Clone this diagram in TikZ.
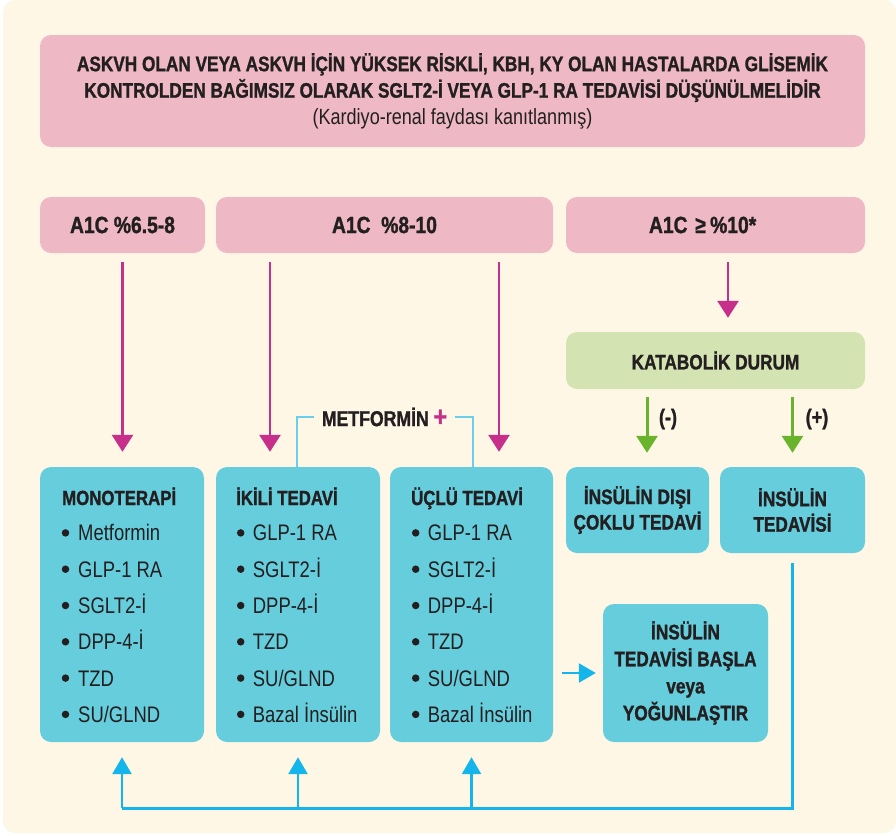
\documentclass[tikz,border=0pt]{standalone}
\usepackage{fontspec}
\setmainfont[FakeStretch=0.82, BoldFeatures={FakeBold=1.2}]{Liberation Sans}
\usetikzlibrary{arrows.meta,calc}
\definecolor{cream}{HTML}{FEF7E6}
\definecolor{pinkbox}{HTML}{EEB9C4}
\definecolor{mag}{HTML}{C7308A}
\definecolor{greenbox}{HTML}{D4E3B2}
\definecolor{greenarr}{HTML}{6AB42D}
\definecolor{cyanbox}{HTML}{66CDDD}
\definecolor{blueline}{HTML}{13B5EA}
\definecolor{bracket}{HTML}{6ACFEA}
\definecolor{txt}{HTML}{231F20}
\begin{document}
\begin{tikzpicture}[x=1pt,y=-1pt,
  box/.style={rounded corners=11pt, inner sep=0pt, text=txt, align=center},
  pbox/.style={box, fill=pinkbox},
  gbox/.style={box, fill=greenbox},
  cbox/.style={box, fill=cyanbox},
  hfont/.style={font=\bfseries\fontsize{21}{25.5}\selectfont},
  afont/.style={font=\bfseries\fontsize{23.5}{26}\selectfont},
  head/.style={text=txt, inner sep=0pt, anchor=base west, font=\bfseries\fontsize{20.5}{24}\selectfont},
  item/.style={text=txt, inner sep=0pt, anchor=base west, font=\fontsize{22.5}{24}\selectfont},
  bul/.style={circle, fill=txt, inner sep=0pt, minimum size=7.5pt},
  marr/.style={draw=mag, line width=2.8pt, -{Triangle[width=21pt,length=17pt]}},
  garr/.style={draw=greenarr, line width=3pt, -{Triangle[width=21pt,length=17pt]}},
  barr/.style={draw=blueline, line width=2.6pt, -{Triangle[width=19pt,length=17pt]}},
  bln/.style={draw=blueline, line width=2.6pt},
  brk/.style={draw=bracket, line width=2.6pt}
]
\useasboundingbox (0,0) rectangle (896,835);
\fill[white] (0,0) rectangle (896,835);
\fill[cream, rounded corners=12pt] (3,0) rectangle (896,833);

% top box
\node[pbox, minimum width=825pt, minimum height=112pt, font=\bfseries\fontsize{21}{26.5}\selectfont] (top) at (452.5,91)
 {ASKVH OLAN VEYA ASKVH İÇİN YÜKSEK RİSKLİ, KBH, KY OLAN HASTALARDA GLİSEMİK\\
  KONTROLDEN BAĞIMSIZ OLARAK SGLT2-İ VEYA GLP-1 RA TEDAVİSİ DÜŞÜNÜLMELİDİR\\
  \mdseries\fontsize{22}{26.5}\selectfont (Kardiyo-renal faydası kanıtlanmış)};

% A1C boxes
\node[pbox, afont, minimum width=165pt, minimum height=56pt] (a1) at (122.5,225) {A1C \%6.5-8};
\node[pbox, afont, minimum width=337pt, minimum height=56pt] (a2) at (384.5,225) {A1C \ \%8-10};
\node[pbox, afont, minimum width=299pt, minimum height=56pt, text width=299pt, align=left] (a3) at (715.5,225) {\hspace*{83pt}A1C ≥\hspace{0.18em}\%10*};

% katabolik
\node[gbox, hfont, minimum width=299pt, minimum height=57pt] (kat) at (715.5,360.5) {KATABOLİK DURUM};

% therapy boxes
\node[cbox, minimum width=164pt, minimum height=275pt] (mono) at (122,604.5) {};
\node[cbox, minimum width=164pt, minimum height=275pt] (ikili) at (298,604.5) {};
\node[cbox, minimum width=163pt, minimum height=275pt] (uclu) at (471.5,604.5) {};
\node[cbox, hfont, minimum width=143pt, minimum height=86pt] (idisi) at (637.5,510) {İNSÜLİN DIŞI\\ÇOKLU TEDAVİ};
\node[cbox, hfont, minimum width=145pt, minimum height=86pt] (itedavi) at (792.5,510) {İNSÜLİN\\TEDAVİSİ};
\node[cbox, font=\bfseries\fontsize{21}{27}\selectfont, minimum width=165pt, minimum height=138pt] (basla) at (685.5,673)
 {İNSÜLİN\\TEDAVİSİ BAŞLA\\veya\\YOĞUNLAŞTIR};

% list contents
\node[head] (mono-h) at (62,505) {MONOTERAPİ};
\foreach \t [count=\i] in {Metformin, GLP-1 RA, SGLT2-İ, DPP-4-İ, TZD, SU/GLND} {
  \node[bul] (mono-b\i) at (65.5,496.6+36.3*\i) {};
  \node[item] (mono-t\i) at (78,504.6+36.3*\i) {\t};
}
\node[head] (ikili-h) at (236,505) {İKİLİ TEDAVİ};
\foreach \t [count=\i] in {GLP-1 RA, SGLT2-İ, DPP-4-İ, TZD, SU/GLND, Bazal İnsülin} {
  \node[bul] (ikili-b\i) at (240.7,496.6+36.3*\i) {};
  \node[item] (ikili-t\i) at (252.7,504.6+36.3*\i) {\t};
}
\node[head] (uclu-h) at (411,505) {ÜÇLÜ TEDAVİ};
\foreach \t [count=\i] in {GLP-1 RA, SGLT2-İ, DPP-4-İ, TZD, SU/GLND, Bazal İnsülin} {
  \node[bul] (uclu-b\i) at (415.7,496.6+36.3*\i) {};
  \node[item] (uclu-t\i) at (427.7,504.6+36.3*\i) {\t};
}

% metformin bracket
\node[text=txt, inner ysep=0pt, inner xsep=8pt, font=\bfseries\fontsize{21.5}{24}\selectfont] (mt) at (384.5,417)
  {METFORMİN {\color{mag}\fontsize{28}{28}\selectfont +}};
\coordinate (x297) at (297,0);
\coordinate (x473) at (473,0);
\draw[brk] (ikili.north -| x297) |- (mt.west);
\draw[brk] (mt.east) -| (uclu.north -| x473);

% magenta arrows
\coordinate (x270) at (270,0);
\coordinate (x499) at (499,0);
\coordinate (x728) at (728,0);
\draw[marr, shorten <=9pt, shorten >=15pt] (a1.south) -- (mono.north -| a1.south);
\draw[marr, shorten <=9pt, shorten >=15pt] (a2.south -| x270) -- (ikili.north -| x270);
\draw[marr, shorten <=9pt, shorten >=15pt] (a2.south -| x499) -- (uclu.north -| x499);
\draw[marr, shorten <=9pt, shorten >=14pt] (a3.south -| x728) -- (kat.north -| x728);

% green arrows
\coordinate (x647) at (647,0);
\draw[garr, shorten <=8pt, shorten >=14pt] (kat.south -| x647) -- (idisi.north -| x647);
\draw[garr, shorten <=8pt, shorten >=14pt] (kat.south -| itedavi.north) -- (itedavi.north);
\node[text=txt, font=\bfseries\fontsize{22}{24}\selectfont] (minus) at (668,419) {(-)};
\node[text=txt, font=\bfseries\fontsize{22}{24}\selectfont] (plus) at (817,419) {(+)};

% blue connectors
\draw[barr, line width=2.2pt, shorten <=9pt, shorten >=7pt] (uclu.east |- basla.west) -- (basla.west);
\coordinate (bl) at ($(mono.south)+(0,66)$);
\draw[bln, shorten <=10pt] (itedavi.south) |- (bl);
\draw[barr, shorten >=15pt] (bl) -- (mono.south);
\draw[barr, shorten >=15pt] (ikili.south |- bl) -- (ikili.south);
\draw[barr, shorten >=15pt] (uclu.south |- bl) -- (uclu.south);
\end{tikzpicture}
\end{document}
